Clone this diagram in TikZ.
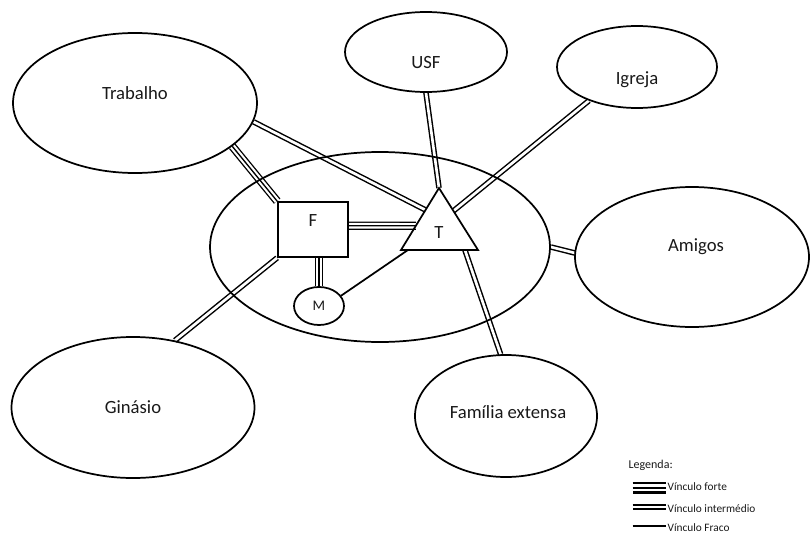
\documentclass[tikz,border=0pt]{standalone}
\usepackage{fontspec}
\setmainfont{Carlito}
\usetikzlibrary{shapes.geometric,backgrounds,calc}

\tikzset{
  bubble/.style={ellipse, draw, line width=1.3pt, inner sep=0pt},
  fambox/.style={rectangle, draw, line width=1.3pt, inner sep=0pt},
  txt/.style={font=\fontsize{14}{16}\selectfont, text=black!90},
  legtxt/.style={font=\fontsize{8.5}{10}\selectfont, text=black!90, inner sep=1pt},
  % ligacoes
  strong/.style={line width=6.2pt, postaction={draw=white, line width=4.2pt},
    postaction={draw=black, line width=1pt}},
  medium/.style={double, line width=1.1pt, double distance=2pt},
  weak/.style={line width=1.3pt},
  legstrong/.style={line width=9pt, postaction={draw=white, line width=5.6pt},
    postaction={draw=black, line width=1.7pt}},
  legmedium/.style={double, line width=1.7pt, double distance=1.4pt},
  legweak/.style={line width=1.7pt}
}

\begin{document}
\begin{tikzpicture}[x=0.75pt, y=-0.75pt]
\useasboundingbox (0,0) rectangle (810,535);

% sistemas
\node[bubble, minimum width=183pt, minimum height=105pt,
  label={[txt, yshift=7.5pt]center:Trabalho}] (trabalho) at (135,103) {};
\node[bubble, minimum width=121.5pt, minimum height=60pt,
  label={[txt, yshift=-8pt]center:USF}] (usf) at (426,52) {};
\node[bubble, minimum width=120pt, minimum height=61.5pt,
  label={[txt, yshift=-9.5pt]center:Igreja}] (igreja) at (637,67) {};
\node[bubble, minimum width=175.5pt, minimum height=105pt,
  label={[txt, xshift=3pt, yshift=8pt]center:Amigos}] (amigos) at (692,257) {};
\node[bubble, minimum width=182.25pt, minimum height=105.75pt,
  label={[txt]center:Ginásio}] (ginasio) at (133,407.5) {};
\node[bubble, minimum width=136.5pt, minimum height=91.5pt,
  label={[txt, xshift=1.5pt, yshift=3pt]center:Família extensa}] (familia) at (506,416) {};
\node[bubble, minimum width=255pt, minimum height=142.5pt] (central) at (380,247) {};

% familia
\node[fambox, minimum width=52.5pt, minimum height=41.25pt,
  label={[txt, yshift=6.4pt]center:F}] (F) at (313,229.5) {};
\node[bubble, minimum width=37.5pt, minimum height=28.5pt,
  font=\fontsize{11}{13}\selectfont, text=black!90] (M) at (319,306) {M};
\coordinate (tapex) at (439,188);
\coordinate (tleft) at (401,250);
\coordinate (tright) at (478,250);
\draw[line width=1.3pt] (tapex) -- (tleft) -- (tright) -- cycle;
\node[txt] (T) at (439,233) {T};

\begin{scope}[on background layer]
\draw[strong] (trabalho.-24) -- (F.north west);
\draw[medium] (trabalho.-9.5) -- ($(tapex)!0.355!(tleft)$);
\draw[medium] (usf.south) -- (tapex);
\draw[medium] (igreja.215) -- ($(tapex)!0.37!(tright)$);
\draw[strong] (F.6) -- ($(tapex)!0.61!(tleft)$);
\draw[strong] (F.south -| M.north) -- (M.north);
\draw[weak] (M.25) -- ($(tleft)!0.09!(tright)$);
\draw[medium] (F.south west) -- (ginasio.58);
\draw[medium] ($(tleft)!0.83!(tright)$) -- (familia.95);
\draw[medium] (central.east) -- (amigos.178);
\end{scope}

% legenda
\node[legtxt, font=\fontsize{9}{11}\selectfont, anchor=west] (legenda) at (627,465) {Legenda:};
\node[legtxt, anchor=west] (forte) at (666,487) {Vínculo forte};
\node[legtxt, anchor=west] (interm) at (666,509) {Vínculo intermédio};
\node[legtxt, anchor=west] (fraco) at (666,527.5) {Vínculo Fraco};
\draw[legstrong] ([xshift=-25pt,yshift=-0.5pt]forte.west) -- ([yshift=-0.5pt]forte.west);
\draw[legmedium] ([xshift=-25pt,yshift=1.5pt]interm.west) -- ([yshift=1.5pt]interm.west);
\draw[legweak] ([xshift=-25pt,yshift=1pt]fraco.west) -- ([yshift=1pt]fraco.west);
\end{tikzpicture}
\end{document}
